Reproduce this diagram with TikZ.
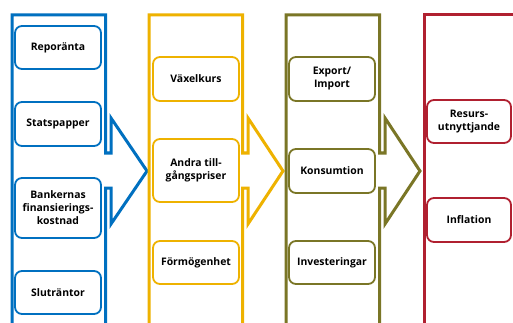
\documentclass[tikz,border=0pt]{standalone}
\usepackage{fontspec}
\setmainfont{Open Sans}
\definecolor{cblue}{RGB}{0,112,192}
\definecolor{cyellow}{RGB}{238,178,0}
\definecolor{colive}{RGB}{122,118,38}
\definecolor{cred}{RGB}{176,32,48}
\begin{document}
\begin{tikzpicture}[x=1pt,y=-1pt,
  colline/.style={line width=3pt,line join=miter},
  item/.style={draw,line width=1.8pt,rounded corners=7pt,minimum width=86pt,
    align=center,font=\bfseries\fontsize{10.4}{13}\selectfont,inner sep=2pt,text=black}]
\useasboundingbox (0,0) rectangle (513,323);
\clip (0,0) rectangle (513,323);
\fill[white] (0,0) rectangle (513,323);
% columns
\draw[colline,cblue] (12,340) -- (12,15) -- (105.5,15) -- (105.5,153) -- (111,153) -- (111,118) -- (147,171) -- (111,224) -- (111,188) -- (105.5,188) -- (105.5,340);
\draw[colline,cyellow] (149,340) -- (149,15) -- (242.5,15) -- (242.5,153) -- (248,153) -- (248,118) -- (283,171) -- (248,224) -- (248,188) -- (242.5,188) -- (242.5,340);
\draw[colline,colive] (286,340) -- (286,15) -- (379.5,15) -- (379.5,153) -- (385,153) -- (385,118) -- (420,171) -- (385,224) -- (385,188) -- (379.5,188) -- (379.5,340);
\draw[colline,cred] (424,340) -- (424,15) -- (514,15) -- (514,340);
% blue items
\node[item,draw=cblue,minimum height=43pt] (rep) at (58,47.5) {Reporänta};
\node[item,draw=cblue,minimum height=44pt] (stat) at (58,124) {Statspapper};
\node[item,draw=cblue,minimum height=60pt] (bank) at (58,208) {Bankernas\\finansierings-\\kostnad};
\node[item,draw=cblue,minimum height=43pt] (slut) at (58,292.5) {Sluträntor};
% yellow items
\node[item,draw=cyellow,minimum height=44pt] (vax) at (196,79) {Växelkurs};
\node[item,draw=cyellow,minimum height=63pt] (andra) at (196,170.5) {Andra till-\\gångspriser};
\node[item,draw=cyellow,minimum height=43pt] (form) at (196,262.5) {Förmögenhet};
% olive items
\node[item,draw=colive,minimum height=44pt] (exp) at (332,79) {Export/\\Import};
\node[item,draw=colive,minimum height=44pt] (kons) at (332,171) {Konsumtion};
\node[item,draw=colive,minimum height=43pt] (inv) at (332,262.5) {Investeringar};
% red items
\node[item,draw=cred,minimum height=43pt,minimum width=84pt] (res) at (469,121.5) {Resurs-\\utnyttjande};
\node[item,draw=cred,minimum height=44pt,minimum width=84pt] (infl) at (469,220) {Inflation};
\end{tikzpicture}
\end{document}
